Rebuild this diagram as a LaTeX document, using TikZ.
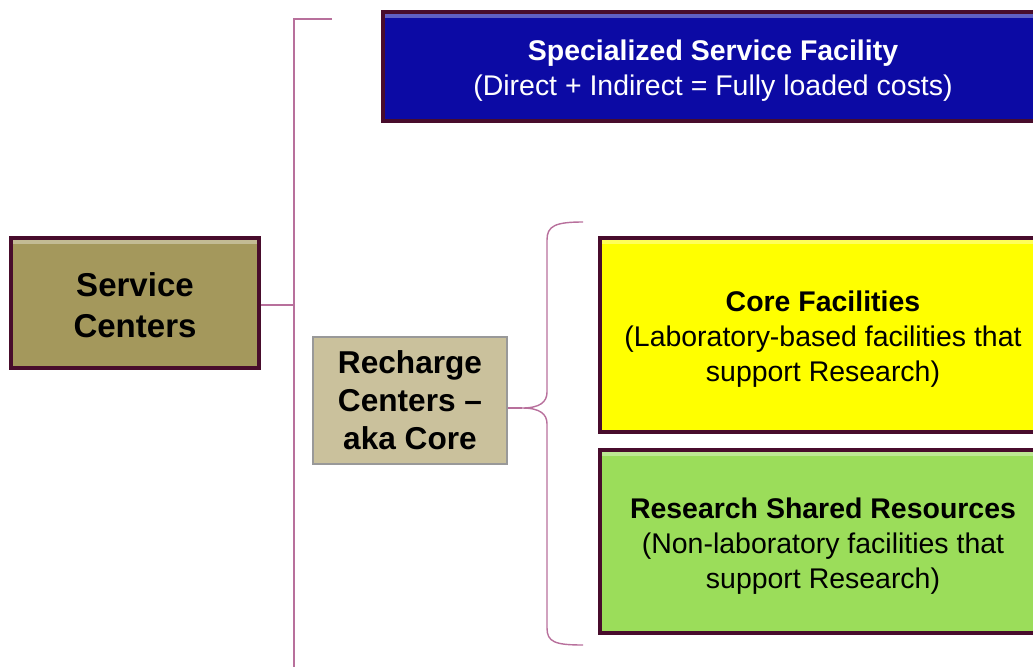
\documentclass[tikz,border=0pt]{standalone}
\usepackage{fontspec}
\setmainfont{Liberation Sans}
\usepackage{tikz}
\definecolor{boxedge}{RGB}{72,12,44}
\definecolor{linkpink}{RGB}{184,112,156}
\definecolor{olivebox}{RGB}{164,152,92}
\definecolor{tanbox}{RGB}{202,193,156}
\definecolor{facblue}{RGB}{12,10,164}
\definecolor{coreyellow}{RGB}{255,255,0}
\definecolor{sharedgreen}{RGB}{155,221,90}
% centred lines, lowered a little inside the box
\newcommand{\boxlines}[2][0pt]{\raisebox{#1}[\height][\depth]{\begin{tabular}{@{}c@{}}#2\end{tabular}}}

\begin{document}
\begin{tikzpicture}
    [
    x=0.02cm, y=-0.02cm,
    box/.style = {draw=boxedge,line width=1.9pt,inner sep=0pt,
                  path picture={\draw[white,opacity=0.35,line width=2.5pt]
                      ([yshift=-2.2pt]path picture bounding box.north west) -- ([yshift=-2.2pt]path picture bounding box.north east);}},
    link/.style = {draw=linkpink,line width=0.8pt},
    big/.style = {font=\bfseries\fontsize{18.8}{22.8}\selectfont},
    mid/.style = {font=\fontsize{16.2}{19.9}\selectfont}
    ]
\useasboundingbox (0,0) rectangle (1033,666);

\node[box,big,fill=olivebox,minimum width=4.96cm,minimum height=2.6cm] (sc) at (135,303)
    {\boxlines[-3.4pt]{Service\\Centers}};

\node[box,mid,fill=facblue,text=white,minimum width=13.2cm,minimum height=2.18cm] (ssf) at (713,66.5)
    {\boxlines[-2.3pt]{\textbf{Specialized Service Facility}\\(Direct + Indirect = Fully loaded costs)}};

\node[draw=gray!80,line width=0.6pt,inner sep=0pt,fill=tanbox,minimum width=3.88cm,minimum height=2.54cm,
      font=\bfseries\fontsize{18}{21.6}\selectfont] (rc) at (410,400.5) {\boxlines[-1.7pt]{Recharge\\Centers --\\aka Core}};

\node[box,mid,fill=coreyellow,minimum width=8.92cm,minimum height=3.88cm] (core) at (823,335)
    {\boxlines[-2.8pt]{\textbf{Core Facilities}\\(Laboratory-based facilities that\\support Research)}};
\node[box,mid,fill=sharedgreen,minimum width=8.92cm,minimum height=3.66cm] (rsr) at (823,541.5)
    {\boxlines[-2.8pt]{\textbf{Research Shared Resources}\\(Non-laboratory facilities that\\support Research)}};

% bracket from service centers
\coordinate (spinetop) at (294,19);
\coordinate (spinebot) at (294,690);
\draw[link] (332,19) -- (spinetop) -- (spinebot);
\draw[link] (sc.east |- 0,305) -- (294,305);

% curly brace round the two core boxes
\coordinate (tip) at (522,408);
\draw[link] (583,222) .. controls (555,222) and (547,226) .. (547,240) -- (547,392)
    .. controls (547,402) and (540,408) .. (tip)
    .. controls (540,408) and (547,414) .. (547,424) -- (547,628)
    .. controls (547,642) and (555,645) .. (583,645);
\draw[link] (rc.east |- tip) -- (tip);

\end{tikzpicture}
\end{document}
